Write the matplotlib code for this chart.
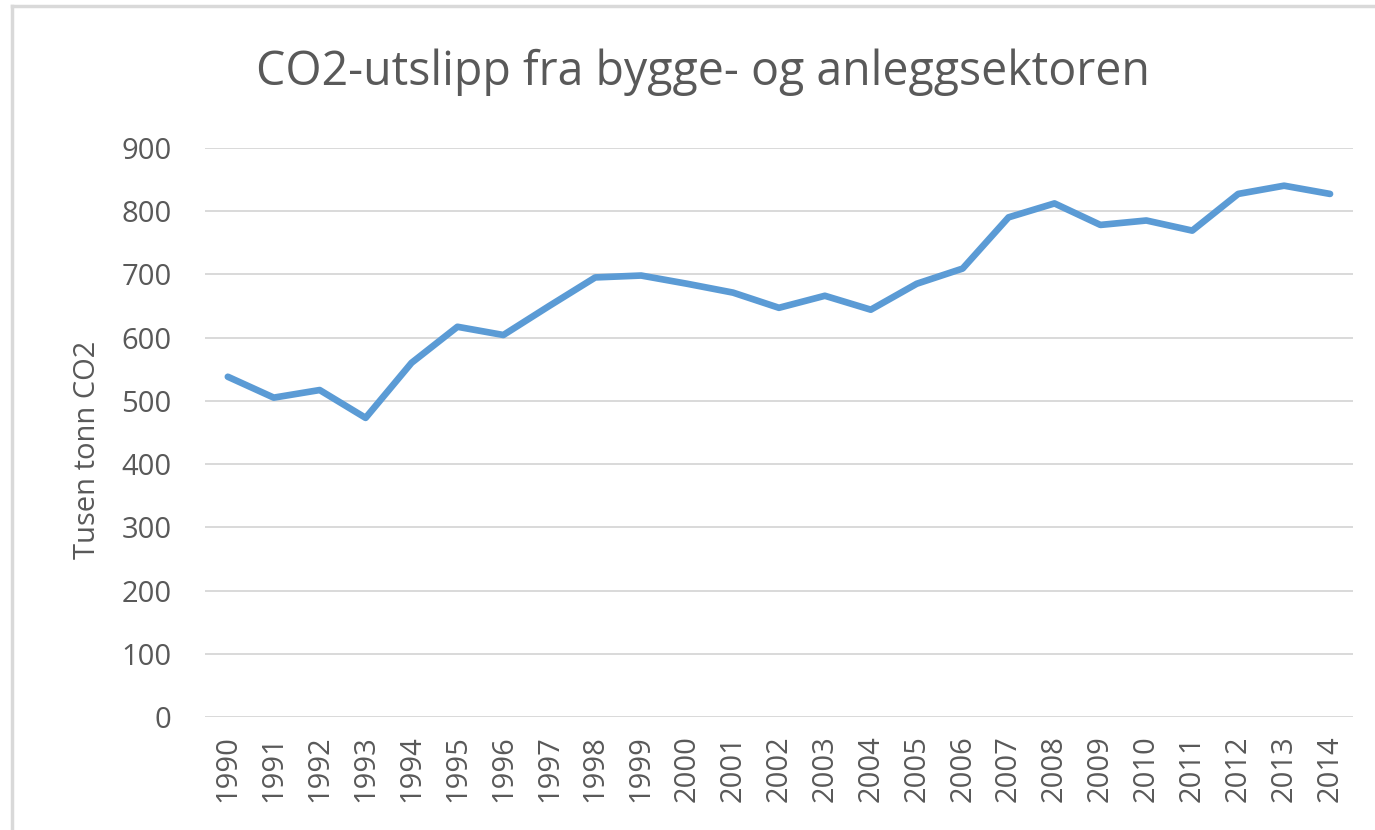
import matplotlib
matplotlib.use('Agg')
import matplotlib.pyplot as plt
from matplotlib.lines import Line2D

# data
years = [str(y) for y in range(1990, 2015)]
utslipp = [538, 505, 517, 473, 560, 617, 604, 650, 695, 698, 685, 671, 647,
           666, 644, 685, 709, 790, 812, 778, 785, 769, 827, 840, 827]
yticks = [0, 100, 200, 300, 400, 500, 600, 700, 800, 900]

tekst_farge = '#595959'
plt.rcParams['font.family'] = ['Open Sans', 'DejaVu Sans']

fig = plt.figure(figsize=(13.75, 8.3), dpi=100)
ax = fig.add_axes([0.149, 0.136, 0.835, 0.686])

x = list(range(len(years)))
ax.plot(x, utslipp, color='#5B9BD5', linewidth=4.8, solid_joinstyle='round',
        solid_capstyle='round', zorder=3)

ax.set_xlim(-0.5, len(years) - 0.5)
ax.set_ylim(0, 900)
ax.set_yticks(yticks)
ax.set_xticks(x)
ax.set_xticklabels(years, rotation=90)
ax.tick_params(axis='both', length=0, labelsize=21, colors=tekst_farge)
ax.tick_params(axis='y', pad=24)
ax.tick_params(axis='x', pad=13)
ax.grid(axis='y', color='#D9D9D9', linewidth=1.4, zorder=0)
for s in ax.spines.values():
    s.set_visible(False)

ax.set_ylabel('Tusen tonn CO2', fontsize=21, color=tekst_farge)
ax.yaxis.set_label_coords(-0.09, 0.47)
fig.text(0.511, 0.913, 'CO2-utslipp fra bygge- og anleggsektoren', ha='center',
         va='center', fontsize=33.5, color=tekst_farge)

# grå ramme (topp og venstre)
fig.add_artist(Line2D([0.009, 1.0], [0.993, 0.993], transform=fig.transFigure,
                      color='#D9D9D9', linewidth=2.5))
fig.add_artist(Line2D([0.009, 0.009], [0.0, 0.993], transform=fig.transFigure,
                      color='#D9D9D9', linewidth=2.5))

fig.savefig('out.png', dpi=100, facecolor='white')
